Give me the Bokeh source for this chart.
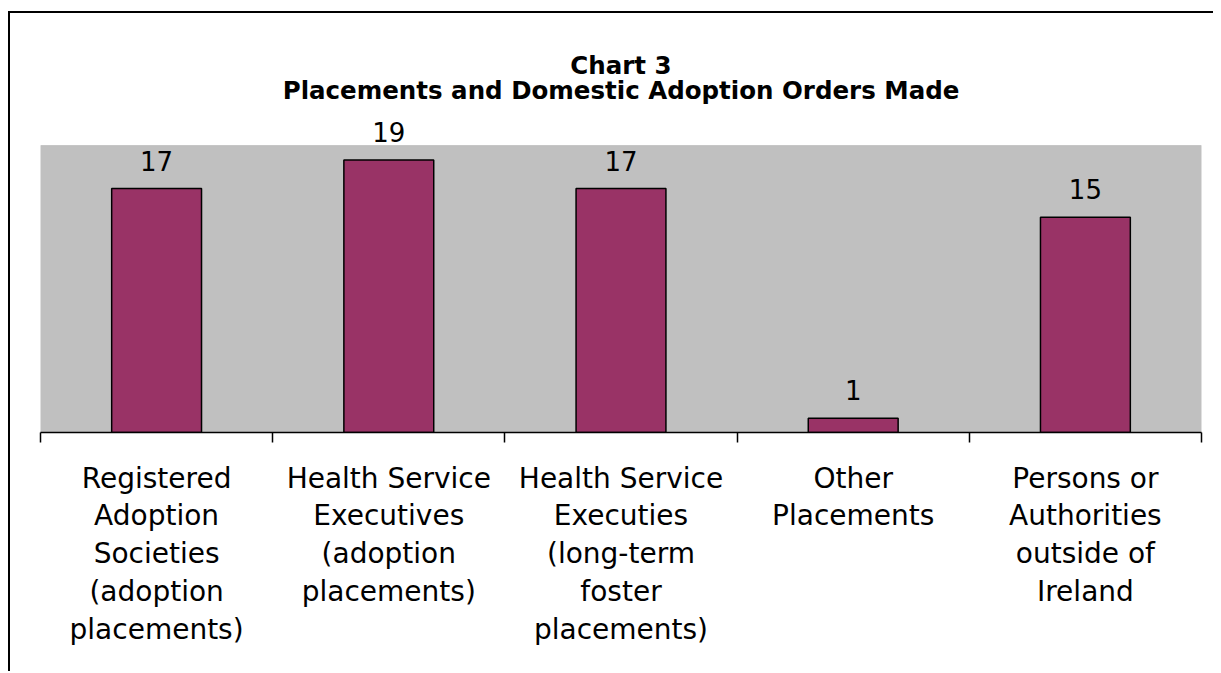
from bokeh.plotting import figure
from bokeh.models import Range1d, FixedTicker, BoxAnnotation, Title, ColumnDataSource
from bokeh.core.properties import value
from bokeh.embed import file_html
from bokeh.resources import INLINE

# ---- data ----
categories = [
    "Registered\nAdoption\nSocieties\n(adoption\nplacements)",
    "Health Service\nExecutives\n(adoption\nplacements)",
    "Health Service\nExecuties\n(long-term\nfoster\nplacements)",
    "Other\nPlacements",
    "Persons or\nAuthorities\noutside of\nIreland",
]
counts = [17, 19, 17, 1, 15]
title_line1 = "Chart 3"
title_line2 = "Placements and Domestic Adoption Orders Made"

FONT = "DejaVu Sans"
n = len(categories)
centers = [i + 0.5 for i in range(n)]
bounds = [float(i) for i in range(n + 1)]

src = ColumnDataSource(dict(x=centers, top=counts, lab=[str(c) for c in counts]))

p = figure(
    width=1205, height=660,
    x_range=Range1d(0, n), y_range=Range1d(0, 22.79),
    output_backend="svg", toolbar_location=None,
    min_border_left=30, min_border_right=14, min_border_top=92, min_border_bottom=241,
    background_fill_color="white", border_fill_color="white",
    outline_line_color=None,
    styles={"border-top": "2px solid black", "border-left": "2px solid black",
            "margin-top": "11px", "margin-left": "8px"},
)
p.grid.visible = False
p.yaxis.visible = False

# gray plot area
p.add_layout(BoxAnnotation(left=0, right=n, bottom=0, top=20,
                           fill_color="#C0C0C0", fill_alpha=1.0,
                           line_color="#8c8c8c", line_width=1, level="underlay"))

p.vbar(x="x", top="top", width=0.387, bottom=0, source=src,
       fill_color="#993366", line_color="black", line_width=1.5)

p.text(x="x", y="top", text="lab", source=src,
       text_font=value(FONT), text_font_size="26px", text_color="black",
       text_align="center", text_baseline="alphabetic", y_offset=-28)

ax = p.xaxis[0]
ax.ticker = FixedTicker(ticks=centers, minor_ticks=bounds)
ax.major_label_overrides = {c: lab for c, lab in zip(centers, categories)}
ax.axis_line_color = "black"
ax.axis_line_width = 1.5
ax.major_tick_out = 0
ax.major_tick_in = 0
ax.minor_tick_out = 10
ax.minor_tick_in = 0
ax.minor_tick_line_color = "black"
ax.minor_tick_line_width = 1.5
ax.major_label_text_font = FONT
ax.major_label_text_font_size = "28px"
ax.major_label_text_color = "black"
ax.major_label_text_line_height = 1.15
ax.major_label_standoff = 19
ax.major_label_orientation = "horizontal"

t2 = Title(text=title_line2, align="center", text_font=FONT, text_font_size="24.5px",
           text_font_style="bold", text_color="black", standoff=2)
t1 = Title(text=title_line1, align="center", text_font=FONT, text_font_size="24.5px",
           text_font_style="bold", text_color="black", standoff=-14)
p.add_layout(t2, "above")
p.add_layout(t1, "above")

open("out.html", "w").write(file_html(p, INLINE))
